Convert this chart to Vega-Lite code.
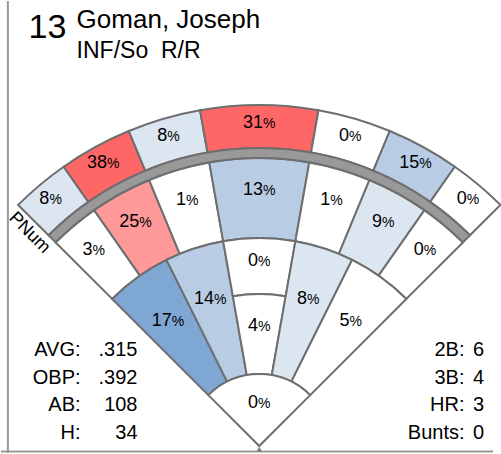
{
  "$schema": "https://vega.github.io/schema/vega-lite/v6.json",
  "width": 501,
  "height": 454,
  "autosize": {"type": "fit", "contains": "padding"},
  "padding": 0,
  "background": "white",
  "config": {"view": {"stroke": null}, "font": "Liberation Sans", "text": {"font": "Liberation Sans", "color": "#000000"}},
  "datasets": {
    "cells": [
      {"ring": "outer", "a0": -45, "a1": -35, "r0": 298, "r1": 341, "pct": 8},
      {"ring": "outer", "a0": -35, "a1": -22.5, "r0": 298, "r1": 341, "pct": 38},
      {"ring": "outer", "a0": -22.5, "a1": -10, "r0": 298, "r1": 341, "pct": 8},
      {"ring": "outer", "a0": -10, "a1": 10, "r0": 298, "r1": 341, "pct": 31},
      {"ring": "outer", "a0": 10, "a1": 22.5, "r0": 298, "r1": 341, "pct": 0},
      {"ring": "outer", "a0": 22.5, "a1": 35, "r0": 298, "r1": 341, "pct": 15},
      {"ring": "outer", "a0": 35, "a1": 45, "r0": 298, "r1": 341, "pct": 0},
      {"ring": "middle", "a0": -45, "a1": -35, "r0": 208, "r1": 288, "pct": 3},
      {"ring": "middle", "a0": -35, "a1": -22.5, "r0": 208, "r1": 288, "pct": 25},
      {"ring": "middle", "a0": -22.5, "a1": -10, "r0": 208, "r1": 288, "pct": 1},
      {"ring": "middle", "a0": -10, "a1": 10, "r0": 208, "r1": 288, "pct": 13},
      {"ring": "middle", "a0": 10, "a1": 22.5, "r0": 208, "r1": 288, "pct": 1},
      {"ring": "middle", "a0": 22.5, "a1": 35, "r0": 208, "r1": 288, "pct": 9},
      {"ring": "middle", "a0": 35, "a1": 45, "r0": 208, "r1": 288, "pct": 0},
      {"ring": "inner", "a0": -45, "a1": -26.5, "r0": 72, "r1": 208, "pct": 17},
      {"ring": "inner", "a0": -26.5, "a1": -10, "r0": 72, "r1": 208, "pct": 14},
      {"ring": "inner", "a0": -10, "a1": 10, "r0": 152, "r1": 208, "pct": 0},
      {"ring": "inner", "a0": -10, "a1": 10, "r0": 72, "r1": 152, "pct": 4},
      {"ring": "inner", "a0": 10, "a1": 26.5, "r0": 72, "r1": 208, "pct": 8},
      {"ring": "inner", "a0": 26.5, "a1": 45, "r0": 72, "r1": 208, "pct": 5},
      {"ring": "infield", "a0": -45, "a1": 45, "r0": 0, "r1": 72, "pct": 0}
    ],
    "band": [{"ring": "band", "a0": -45, "a1": 45, "r0": 288, "r1": 298}],
    "statsLeft": [
      {"row": 1, "stat": "AVG:", "value": ".315"},
      {"row": 2, "stat": "OBP:", "value": ".392"},
      {"row": 3, "stat": "AB:", "value": "108"},
      {"row": 4, "stat": "H:", "value": "34"}
    ],
    "statsRight": [
      {"row": 1, "stat": "2B:", "value": "6"},
      {"row": 2, "stat": "3B:", "value": "4"},
      {"row": 3, "stat": "HR:", "value": "3"},
      {"row": 4, "stat": "Bunts:", "value": "0"}
    ],
    "player": [{"number": "13", "name": "Goman, Joseph", "info": "INF/So\u00a0 R/R", "foul": "PNum"}]
  },
  "resolve": {"scale": {"x": "independent", "y": "independent"}},
  "layer": [
    {
      "data": {"name": "cells"},
      "mark": {"type": "arc", "stroke": "#6e6e6e", "strokeWidth": 2},
      "encoding": {
        "x": {"datum": 0, "type": "quantitative", "scale": {"domain": [-263, 238], "nice": false, "zero": false}, "axis": null},
        "y": {"datum": 0, "type": "quantitative", "scale": {"domain": [-7, 447], "nice": false, "zero": false}, "axis": null},
        "theta": {"field": "a0", "type": "quantitative", "scale": {"domain": [-45, 45], "range": [-0.7853982, 0.7853982], "nice": false, "zero": false}},
        "theta2": {"field": "a1"},
        "radius": {"field": "r1", "type": "quantitative", "scale": {"type": "linear", "domain": [0, 341], "range": [0, 341], "nice": false, "zero": true}},
        "radius2": {"field": "r0"},
        "fill": {"field": "pct", "type": "quantitative", "scale": {"type": "threshold", "domain": [6, 11, 16, 22, 30], "range": ["#ffffff", "#dce6f1", "#b8cce4", "#7fa7d4", "#ff9999", "#ff6666"]}, "legend": null}
      }
    },
    {
      "data": {"name": "band"},
      "mark": {"type": "arc", "fill": "#999999", "stroke": "#6e6e6e", "strokeWidth": 2},
      "encoding": {
        "x": {"datum": 0, "type": "quantitative", "scale": {"domain": [-263, 238], "nice": false, "zero": false}, "axis": null},
        "y": {"datum": 0, "type": "quantitative", "scale": {"domain": [-7, 447], "nice": false, "zero": false}, "axis": null},
        "theta": {"field": "a0", "type": "quantitative"},
        "theta2": {"field": "a1"},
        "radius": {"field": "r1", "type": "quantitative"},
        "radius2": {"field": "r0"}
      }
    },
    {
      "data": {"name": "cells"},
      "transform": [
        {"filter": "datum.pct >= 10"},
        {"calculate": "(datum.a0 + datum.a1) / 2", "as": "am"},
        {"calculate": "datum.r0 + 0.62 * (datum.r1 - datum.r0)", "as": "rm"}
      ],
      "layer": [
        {
          "mark": {"type": "text", "align": "right", "baseline": "alphabetic", "dx": 3.8, "dy": 6.5, "fontSize": 18},
          "encoding": {
            "x": {"datum": 0, "type": "quantitative", "scale": {"domain": [-263, 238], "nice": false, "zero": false}, "axis": null},
            "y": {"datum": 0, "type": "quantitative", "scale": {"domain": [-7, 447], "nice": false, "zero": false}, "axis": null},
            "theta": {"field": "am", "type": "quantitative"},
            "radius": {"field": "rm", "type": "quantitative"},
            "text": {"field": "pct", "type": "quantitative", "format": "d"}
          }
        },
        {
          "mark": {"type": "text", "align": "left", "baseline": "alphabetic", "dx": 3.8, "dy": 6.5, "fontSize": 14},
          "encoding": {
            "x": {"datum": 0, "type": "quantitative", "scale": {"domain": [-263, 238], "nice": false, "zero": false}, "axis": null},
            "y": {"datum": 0, "type": "quantitative", "scale": {"domain": [-7, 447], "nice": false, "zero": false}, "axis": null},
            "theta": {"field": "am", "type": "quantitative"},
            "radius": {"field": "rm", "type": "quantitative"},
            "text": {"value": "%"}
          }
        }
      ]
    },
    {
      "data": {"name": "cells"},
      "transform": [
        {"filter": "datum.pct < 10"},
        {"calculate": "(datum.a0 + datum.a1) / 2", "as": "am"},
        {"calculate": "datum.r0 + 0.62 * (datum.r1 - datum.r0)", "as": "rm"}
      ],
      "layer": [
        {
          "mark": {"type": "text", "align": "right", "baseline": "alphabetic", "dx": -1.2, "dy": 6.5, "fontSize": 18},
          "encoding": {
            "x": {"datum": 0, "type": "quantitative", "scale": {"domain": [-263, 238], "nice": false, "zero": false}, "axis": null},
            "y": {"datum": 0, "type": "quantitative", "scale": {"domain": [-7, 447], "nice": false, "zero": false}, "axis": null},
            "theta": {"field": "am", "type": "quantitative"},
            "radius": {"field": "rm", "type": "quantitative"},
            "text": {"field": "pct", "type": "quantitative", "format": "d"}
          }
        },
        {
          "mark": {"type": "text", "align": "left", "baseline": "alphabetic", "dx": -1.2, "dy": 6.5, "fontSize": 14},
          "encoding": {
            "x": {"datum": 0, "type": "quantitative", "scale": {"domain": [-263, 238], "nice": false, "zero": false}, "axis": null},
            "y": {"datum": 0, "type": "quantitative", "scale": {"domain": [-7, 447], "nice": false, "zero": false}, "axis": null},
            "theta": {"field": "am", "type": "quantitative"},
            "radius": {"field": "rm", "type": "quantitative"},
            "text": {"value": "%"}
          }
        }
      ]
    },
    {
      "data": {"name": "statsLeft"},
      "layer": [
        {
          "mark": {"type": "text", "align": "right", "baseline": "alphabetic", "fontSize": 20},
          "encoding": {
            "x": {"datum": -182, "type": "quantitative", "scale": {"domain": [-263, 238], "nice": false, "zero": false}, "axis": null},
            "y": {"field": "row", "type": "quantitative", "scale": {"domain": [-11.9, 4.51], "reverse": true, "nice": false, "zero": false}, "axis": null},
            "text": {"field": "stat"}
          }
        },
        {
          "mark": {"type": "text", "align": "right", "baseline": "alphabetic", "fontSize": 20},
          "encoding": {
            "x": {"datum": -124, "type": "quantitative", "scale": {"domain": [-263, 238], "nice": false, "zero": false}, "axis": null},
            "y": {"field": "row", "type": "quantitative", "scale": {"domain": [-11.9, 4.51], "reverse": true, "nice": false, "zero": false}, "axis": null},
            "text": {"field": "value"}
          }
        }
      ]
    },
    {
      "data": {"name": "statsRight"},
      "layer": [
        {
          "mark": {"type": "text", "align": "right", "baseline": "alphabetic", "fontSize": 20},
          "encoding": {
            "x": {"datum": 209, "type": "quantitative", "scale": {"domain": [-263, 238], "nice": false, "zero": false}, "axis": null},
            "y": {"field": "row", "type": "quantitative", "scale": {"domain": [-11.9, 4.51], "reverse": true, "nice": false, "zero": false}, "axis": null},
            "text": {"field": "stat"}
          }
        },
        {
          "mark": {"type": "text", "align": "right", "baseline": "alphabetic", "fontSize": 20},
          "encoding": {
            "x": {"datum": 229, "type": "quantitative", "scale": {"domain": [-263, 238], "nice": false, "zero": false}, "axis": null},
            "y": {"field": "row", "type": "quantitative", "scale": {"domain": [-11.9, 4.51], "reverse": true, "nice": false, "zero": false}, "axis": null},
            "text": {"field": "value"}
          }
        }
      ]
    },
    {
      "data": {"name": "player"},
      "layer": [
        {
          "mark": {"type": "text", "align": "left", "baseline": "alphabetic", "fontSize": 34},
          "encoding": {
            "x": {"datum": -235, "type": "quantitative", "scale": {"domain": [-263, 238], "nice": false, "zero": false}, "axis": null},
            "y": {"datum": 410, "type": "quantitative", "scale": {"domain": [-7, 447], "nice": false, "zero": false}, "axis": null},
            "text": {"field": "number"}
          }
        },
        {
          "mark": {"type": "text", "align": "left", "baseline": "alphabetic", "fontSize": 26},
          "encoding": {
            "x": {"datum": -186, "type": "quantitative", "scale": {"domain": [-263, 238], "nice": false, "zero": false}, "axis": null},
            "y": {"datum": 420, "type": "quantitative", "scale": {"domain": [-7, 447], "nice": false, "zero": false}, "axis": null},
            "text": {"field": "name"}
          }
        },
        {
          "mark": {"type": "text", "align": "left", "baseline": "alphabetic", "fontSize": 23},
          "encoding": {
            "x": {"datum": -186, "type": "quantitative", "scale": {"domain": [-263, 238], "nice": false, "zero": false}, "axis": null},
            "y": {"datum": 390, "type": "quantitative", "scale": {"domain": [-7, 447], "nice": false, "zero": false}, "axis": null},
            "text": {"field": "info"}
          }
        },
        {
          "mark": {"type": "text", "align": "center", "baseline": "middle", "fontSize": 18, "angle": 45},
          "encoding": {
            "x": {"datum": -234, "type": "quantitative", "scale": {"domain": [-263, 238], "nice": false, "zero": false}, "axis": null},
            "y": {"datum": 214, "type": "quantitative", "scale": {"domain": [-7, 447], "nice": false, "zero": false}, "axis": null},
            "text": {"field": "foul"}
          }
        }
      ]
    },
    {
      "data": {"values": [{"edge": "left"}]},
      "mark": {"type": "rule", "color": "#999999", "strokeWidth": 2},
      "encoding": {
        "x": {"datum": -256, "type": "quantitative", "scale": {"domain": [-263, 238], "nice": false, "zero": false}, "axis": null}
      }
    },
    {
      "data": {"values": [{"edge": "bottom"}]},
      "mark": {"type": "rule", "color": "#999999", "strokeWidth": 2},
      "encoding": {
        "y": {"datum": -5.5, "type": "quantitative", "scale": {"domain": [-7, 447], "nice": false, "zero": false}, "axis": null}
      }
    },
    {
      "data": {"values": [{"mark": "home"}]},
      "mark": {"type": "point", "shape": "triangle-up", "filled": true, "color": "#7a7a7a", "size": 30, "opacity": 1},
      "encoding": {
        "x": {"datum": 0, "type": "quantitative", "scale": {"domain": [-263, 238], "nice": false, "zero": false}, "axis": null},
        "y": {"datum": -3, "type": "quantitative", "scale": {"domain": [-7, 447], "nice": false, "zero": false}, "axis": null}
      }
    }
  ]
}
